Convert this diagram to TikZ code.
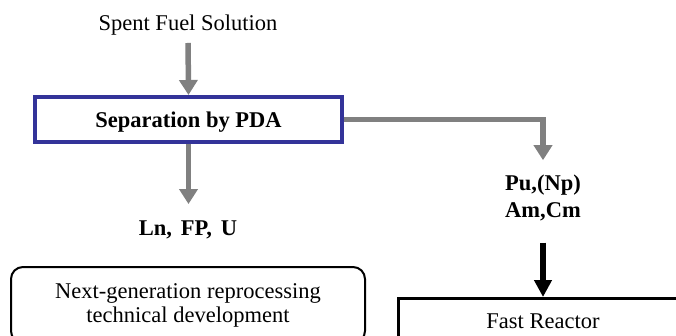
\documentclass[tikz,border=0pt]{standalone}
\usepackage{fontspec}
\setmainfont{LiberationSerif}[
  Extension=.ttf,
  UprightFont=*-Regular,
  BoldFont=*-Bold,
  ItalicFont=*-Italic,
  BoldItalicFont=*-BoldItalic]
\usetikzlibrary{arrows.meta}
\definecolor{flowgray}{RGB}{128,128,128}
\definecolor{pdablue}{RGB}{51,51,153}
\begin{document}
\begin{tikzpicture}[x=1pt,y=-1pt,
  txt/.style={font=\fontsize{22.5}{24}\selectfont, align=center, inner sep=0pt},
  boldtxt/.style={align=center, inner sep=0pt, font=\fontsize{22.5}{27}\selectfont\bfseries},
  grayflow/.style={draw=flowgray, line width=5.5pt,
    -{Triangle[width=18pt,length=15pt,fill=flowgray]}},
  blackflow/.style={draw=black, line width=6pt,
    -{Triangle[width=17pt,length=17pt,fill=black]}},
  sepbox/.style={draw=pdablue, line width=4pt, fill=white,
    minimum width=307pt, minimum height=45pt, inner sep=0pt,
    text height=15pt, text depth=0pt, font=\fontsize{22.5}{27}\selectfont\bfseries},
  devbox/.style={txt, draw=black, line width=2pt, rounded corners=12pt,
    minimum width=354pt, minimum height=76pt},
  reactorbox/.style={txt, draw=black, line width=3pt,
    minimum width=290pt, minimum height=44pt, text height=15pt, text depth=0pt}
]
\useasboundingbox (0,0) rectangle (676,335);
\clip (0,0) rectangle (676,335);

% process nodes
\node[txt, anchor=base] (feed) at (188,30) {Spent Fuel Solution};
\node[sepbox] (sep) at (188.5,119.5) {Separation by PDA};
\node[boldtxt, anchor=base] (ln) at (188,235) {Ln,\hspace{0.4em}FP,\hspace{0.4em}U};
\node[boldtxt, anchor=base] (pu) at (543,217) {Pu,(Np)\\Am,Cm};
\node[devbox] (dev) at (188,305) {Next-generation reprocessing\\technical development};
\node[reactorbox] (fr) at (543,320.5) {Fast Reactor};

% flows
\draw[grayflow, shorten <=8pt] (feed.south) -- (sep.north);
\draw[grayflow, shorten >=16pt] (sep.south) -- (sep.south |- ln.north);
\draw[grayflow, shorten >=14pt] (sep.east) -| (pu.north);
\draw[blackflow, shorten <=22pt] (pu.south) -- (fr.north);
\end{tikzpicture}
\end{document}
